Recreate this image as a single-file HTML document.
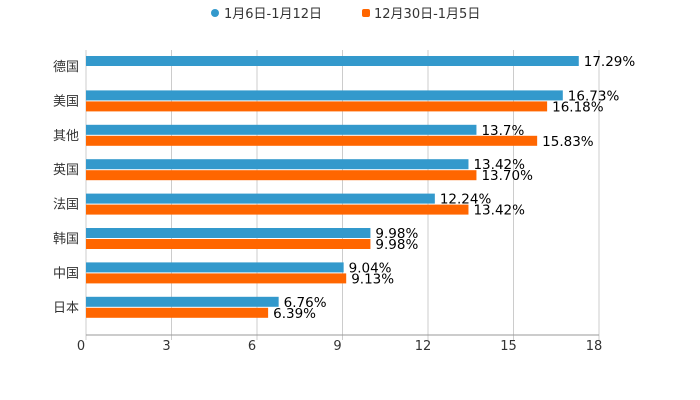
<!DOCTYPE html>
<html><head><meta charset="utf-8"><style>
html,body{margin:0;padding:0;background:#fff;width:700px;height:400px;overflow:hidden}
text{font-family:"DejaVu Sans","Noto Sans CJK SC",sans-serif}
</style></head><body>
<svg id="chart" width="700" height="400" xmlns="http://www.w3.org/2000/svg">
<g>
<g><circle cx="215" cy="13" r="4" fill="#3399cc"/><text x="224" y="18" font-size="13" fill="#333">1月6日-1月12日</text></g>
<g><rect x="362" y="9" width="8" height="8" rx="2" fill="#ff6600"/><text x="374" y="18" font-size="13" fill="#333">12月30日-1月5日</text></g>
</g>
<g id="grid"></g>
<g id="bars"></g>
</svg>
<script>
const categories=["德国","美国","其他","英国","法国","韩国","中国","日本"];
const seriesA=[17.29,16.73,13.7,13.42,12.24,9.98,9.04,6.76];
const labelsA=["17.29%","16.73%","13.7%","13.42%","12.24%","9.98%","9.04%","6.76%"];
const seriesB=[null,16.18,15.83,13.70,13.42,9.98,9.13,6.39];
const labelsB=["","16.18%","15.83%","13.70%","13.42%","9.98%","9.13%","6.39%"];
const ticks=[0,3,6,9,12,15,18];
const NS="http://www.w3.org/2000/svg";
const x0=86,x1=599,plotTop=50,band=34.4,axisY=335;
const xs=v=>x0+(v/18)*(x1-x0);
const gridG=document.getElementById('grid'),barsG=document.getElementById('bars');
function mk(tag,attrs,parent){const e=document.createElementNS(NS,tag);for(const k in attrs)e.setAttribute(k,attrs[k]);parent.appendChild(e);return e;}
ticks.forEach(t=>{
  const l=mk('line',{x1:xs(t),x2:xs(t),y1:plotTop,y2:axisY+5,stroke:'#ccc','stroke-width':1},gridG);
  
  
  const tx=mk('text',{x:xs(t)-5,y:axisY+15,'font-size':13,fill:'#333','text-anchor':'middle'},gridG);
  tx.textContent=t;
  
  
});
const ax=mk('line',{x1:x0,x2:x1,y1:axisY,y2:axisY,stroke:'#999','stroke-width':1},gridG);


categories.forEach((c,i)=>{
  const bt=plotTop+band*i;
  const cl=mk('text',{x:79,y:bt+21,'font-size':13,fill:'#333','text-anchor':'end'},gridG);
  cl.textContent=c;
  
  
  const a=mk('rect',{x:x0,y:bt+6,width:xs(seriesA[i])-x0,height:10,fill:'#3399cc'},barsG);
  
  
  const at=mk('text',{x:xs(seriesA[i])+5,y:bt+16,'font-size':13.5,fill:'#000'},barsG);
  at.textContent=labelsA[i];
  
  
  if(seriesB[i]!=null){
    const b=mk('rect',{x:x0,y:bt+17,width:xs(seriesB[i])-x0,height:10,fill:'#ff6600'},barsG);
    
    
    const btx=mk('text',{x:xs(seriesB[i])+5,y:bt+27,'font-size':13.5,fill:'#000'},barsG);
    btx.textContent=labelsB[i];
    
    
  }
});
</script>
</body></html>
